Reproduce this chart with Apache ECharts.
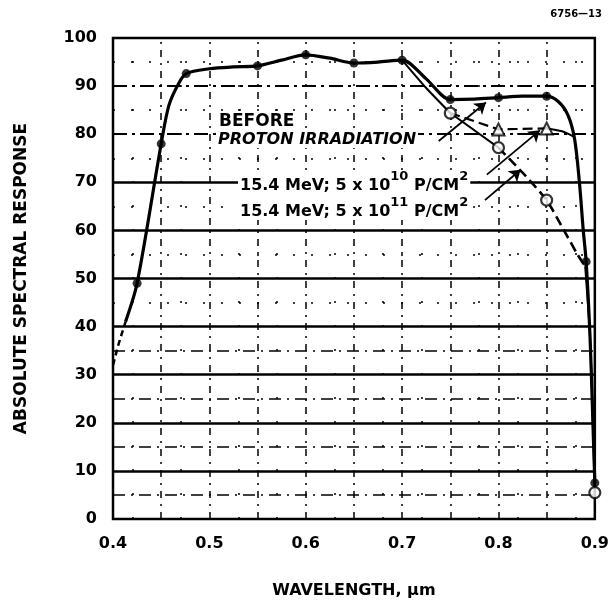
<!DOCTYPE html>
<html>
<head>
<meta charset="utf-8">
<script src="https://cdn.jsdelivr.net/npm/echarts/dist/echarts.min.js"></script>
<style>
html, body { margin: 0; padding: 0; background: #fff; }
#chart { width: 612px; height: 607px; }
</style>
</head>
<body>
<div id="chart"></div>
<script>
// spectral response, before and after proton irradiation
var fontMain = '"DejaVu Sans", "Liberation Sans", Arial, sans-serif';

// before irradiation (filled dots)
var leadX = [0.4, 0.406, 0.413];
var leadY = [32, 36.5, 41];
var mainX = [0.413, 0.425, 0.45, 0.458, 0.468, 0.476, 0.5, 0.525, 0.55, 0.575, 0.6, 0.625, 0.65, 0.675, 0.7, 0.725, 0.75, 0.775, 0.8, 0.825, 0.85, 0.862, 0.872, 0.879, 0.884, 0.888, 0.891, 0.895, 0.898, 0.9];
var mainY = [41, 49, 78, 86, 90.5, 92.6, 93.6, 94, 94.2, 95.4, 96.5, 95.8, 94.8, 95, 95.4, 91.5, 87.2, 87.3, 87.6, 87.9, 87.9, 86.8, 84, 79, 70, 60, 53.5, 38, 20, 7.5];
var mainDotX = [0.425, 0.45, 0.476, 0.55, 0.6, 0.65, 0.7, 0.75, 0.8, 0.85, 0.891, 0.9];
var mainDotY = [49, 78, 92.6, 94.2, 96.5, 94.8, 95.4, 87.2, 87.6, 87.9, 53.5, 7.5];

// shared start of both irradiated curves
var irrX = [0.7, 0.725, 0.75];
var irrY = [95.4, 89.6, 84.4];

// 15.4 MeV; 5e10 (open triangles)
var e10DashX = [0.75, 0.8, 0.85];
var e10DashY = [84.4, 81, 81.2];
var e10TailX = [0.85, 0.866, 0.878];
var e10TailY = [81.2, 80.6, 79.5];
var e10MarkX = [0.8, 0.85];
var e10MarkY = [81, 81.2];

// 15.4 MeV; 5e11 (open circles)
var e11SolidX = [0.75, 0.8];
var e11SolidY = [84.4, 77.2];
var e11DashX = [0.8, 0.825, 0.85, 0.868, 0.882, 0.89];
var e11DashY = [77.2, 72, 66.3, 60, 55, 52.5];
var e11TailX = [0.89, 0.895, 0.898, 0.9];
var e11TailY = [52.5, 38, 20, 5.5];
var e11MarkX = [0.75, 0.8, 0.85, 0.9];
var e11MarkY = [84.4, 77.2, 66.3, 5.5];

// grid lines
var solidY = [10, 20, 30, 40, 50, 60, 70];
var dashY = [80, 90];
var minorY = [5, 15, 25, 35];
var dotY = [45, 55, 65, 75, 85, 95];
var vertX = [0.45, 0.5, 0.55, 0.6, 0.65, 0.7, 0.75, 0.8, 0.85];
var vertDotX = [0.425, 0.475, 0.525, 0.575, 0.625, 0.675, 0.725, 0.775, 0.825, 0.875];

// leader lines [from, to]
var leaderBefore = [[0.738, 78.6], [0.787, 86.6]];
var leader10 = [[0.788, 71.6], [0.843, 80.8]];
var leader11 = [[0.786, 66.3], [0.823, 72.6]];

function zip(xs, ys) {
    var out = [];
    xs.forEach(function (x, i) { out.push([x, ys[i]]); });
    return out;
}

var gridLines = [];
solidY.forEach(function (v) {
    gridLines.push({ yAxis: v, lineStyle: { color: '#000', width: 2.5, type: 'solid' } });
});
dashY.forEach(function (v) {
    gridLines.push({ yAxis: v, lineStyle: { color: '#000', width: 2, type: [14, 5, 3, 5] } });
});
minorY.forEach(function (v) {
    gridLines.push({ yAxis: v, lineStyle: { color: '#000', width: 1.6, type: [12, 6, 2, 6] } });
});
dotY.forEach(function (v) {
    gridLines.push({ yAxis: v, lineStyle: { color: '#000', width: 1.5, type: [2, 16] } });
});
vertX.forEach(function (v) {
    gridLines.push({ xAxis: v, lineStyle: { color: '#000', width: 1.5, type: [7, 6, 2, 6] } });
});
vertDotX.forEach(function (v) {
    gridLines.push({ xAxis: v, lineStyle: { color: '#000', width: 1.5, type: [2, 22] } });
});

function curve(xs, ys, width, type, smooth) {
    return {
        type: 'line',
        data: zip(xs, ys),
        showSymbol: false,
        smooth: smooth,
        z: 3,
        lineStyle: { color: '#000', width: width, type: type },
        silent: true
    };
}

var series = [
    {
        type: 'scatter',
        data: [],
        z: 1,
        silent: true,
        markLine: { silent: true, symbol: 'none', label: { show: false }, animation: false, data: gridLines }
    },
    curve(leadX, leadY, 2.5, [6, 4], false),
    curve(mainX, mainY, 3.2, 'solid', 0.3),
    curve(irrX, irrY, 2, 'solid', 0.2),
    curve(e10DashX, e10DashY, 2.2, [10, 5], false),
    curve(e10TailX, e10TailY, 2, 'solid', 0.3),
    curve(e11SolidX, e11SolidY, 2, 'solid', false),
    curve(e11DashX, e11DashY, 2.6, [10, 5], 0.2),
    curve(e11TailX, e11TailY, 2, 'solid', 0.2),
    {
        type: 'scatter',
        data: zip(mainDotX, mainDotY),
        symbol: 'circle',
        symbolSize: 9,
        z: 5,
        itemStyle: { color: '#000' }
    },
    {
        type: 'scatter',
        data: zip(e10MarkX, e10MarkY),
        symbol: 'triangle',
        symbolSize: 12,
        z: 5,
        itemStyle: { color: '#fff', borderColor: '#000', borderWidth: 2 }
    },
    {
        type: 'scatter',
        data: zip(e11MarkX, e11MarkY),
        symbol: 'circle',
        symbolSize: 11,
        z: 5,
        itemStyle: { color: '#fff', borderColor: '#000', borderWidth: 2.2 }
    },
    {
        type: 'scatter',
        data: [],
        z: 4,
        markLine: {
            silent: true,
            symbol: ['none', 'arrow'],
            symbolSize: 11,
            label: { show: false },
            lineStyle: { color: '#000', width: 1.8, type: 'solid' },
            data: [leaderBefore, leader10, leader11].map(function (l) {
                return [{ coord: l[0] }, { coord: l[1] }];
            })
        }
    }
];

var labelStyle = { fontSize: 16, fontWeight: 'bold', color: '#000', fontFamily: fontMain };
var supRich = {
    n: { fontSize: 16, fontWeight: 'bold', fontFamily: fontMain, fill: '#000', lineHeight: 24, verticalAlign: 'bottom' },
    s: { fontSize: 13, fontWeight: 'bold', fontFamily: fontMain, fill: '#000', lineHeight: 24, verticalAlign: 'top' }
};

var option = {
    animation: false,
    backgroundColor: '#fff',
    grid: { left: 113, right: 17, top: 38, bottom: 88, show: true, borderColor: '#000', borderWidth: 2.5 },
    xAxis: {
        type: 'value', min: 0.4, max: 0.9, interval: 0.1,
        axisLine: { show: false }, axisTick: { show: false }, splitLine: { show: false },
        axisLabel: Object.assign({ margin: 17, formatter: function (v) { return v.toFixed(1); } }, labelStyle),
        name: 'WAVELENGTH, \u03bcm', nameLocation: 'middle', nameGap: 64,
        nameTextStyle: { fontSize: 16, fontWeight: 'bold', color: '#000', fontFamily: fontMain }
    },
    yAxis: {
        type: 'value', min: 0, max: 100, interval: 10,
        axisLine: { show: false }, axisTick: { show: false }, splitLine: { show: false },
        axisLabel: Object.assign({ margin: 16 }, labelStyle),
        name: 'ABSOLUTE SPECTRAL RESPONSE', nameLocation: 'middle', nameGap: 83, nameRotate: 90,
        nameTextStyle: { fontSize: 17, fontWeight: 'bold', color: '#000', fontFamily: fontMain }
    },
    series: series,
    graphic: [
        { type: 'text', right: 10, top: 9, style: { text: '6756\u201413', font: 'bold 10px ' + fontMain, fill: '#000' } },
        { type: 'text', left: 219, top: 113, z: 10, style: { text: 'BEFORE', font: 'bold 17px ' + fontMain, fill: '#000', backgroundColor: '#fff', padding: [0, 2, 0, 0] } },
        { type: 'text', left: 216, top: 132, z: 10, style: { text: 'PROTON IRRADIATION', font: 'italic bold 16px ' + fontMain, fill: '#000', backgroundColor: '#fff', padding: [0, 2, 0, 2] } },
        { type: 'text', left: 238, top: 170, z: 10, style: { text: '{n|15.4 MeV; 5 x 10}{s|10}{n| P/CM}{s|2}', rich: supRich, backgroundColor: '#fff', padding: [0, 2, 0, 2] } },
        { type: 'text', left: 238, top: 196, z: 10, style: { text: '{n|15.4 MeV; 5 x 10}{s|11}{n| P/CM}{s|2}', rich: supRich, backgroundColor: '#fff', padding: [0, 2, 0, 2] } }
    ]
};

var chart = echarts.init(document.getElementById('chart'));
chart.setOption(option);
</script>
</body>
</html>
